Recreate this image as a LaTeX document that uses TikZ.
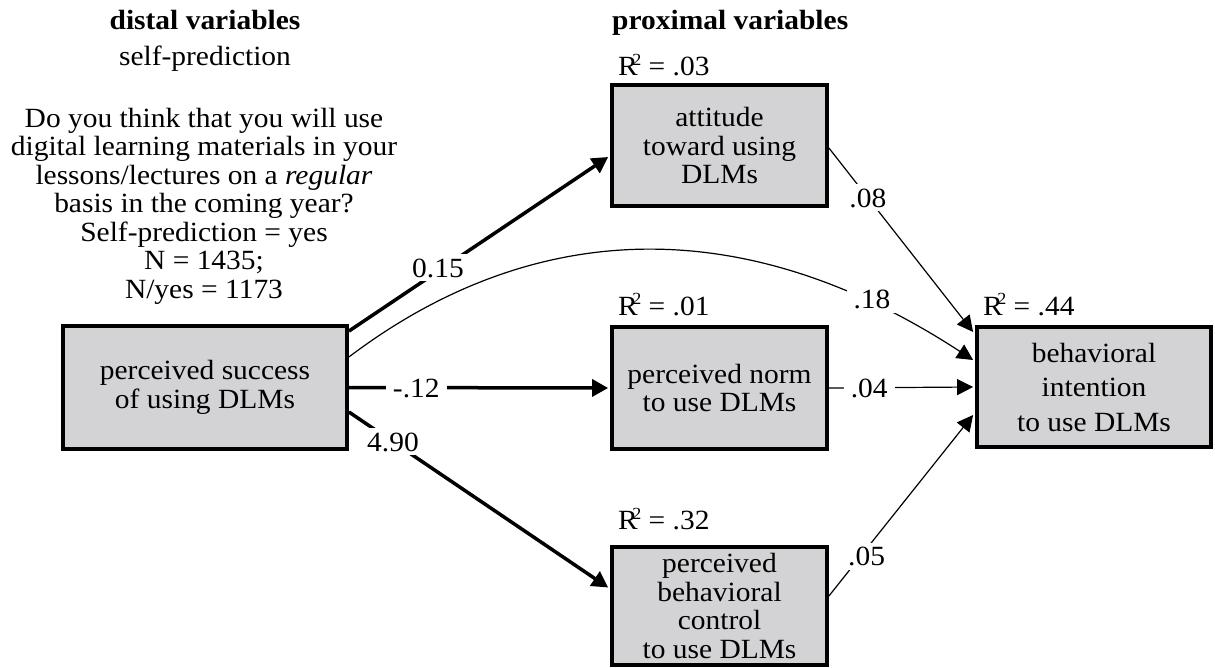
\documentclass[tikz,border=0pt]{standalone}
\usepackage{fontspec}
\setmainfont{Liberation Serif}[FakeStretch=1.06]
\usetikzlibrary{arrows.meta,calc}
\definecolor{boxgray}{RGB}{211,211,213}
\newcommand\myfs{\fontsize{27.8}{28.5}\selectfont}
\newcommand\rsq[1]{R\kern-5.5pt\raisebox{10pt}{\fontsize{17}{17}\selectfont 2}\ = #1}
\begin{document}
\begin{tikzpicture}[x=1pt,y=-1pt,
  every node/.style={font=\myfs, inner sep=0pt},
  varbox/.style={draw=black, line width=3.8pt, fill=boxgray, align=center},
  thinarrow/.style={line width=1.2pt, -{Triangle[length=16pt,width=16pt]}},
  thickarrow/.style={line width=3.5pt, -{Triangle[length=16pt,width=17pt]}},
  elabel/.style={fill=white, inner xsep=7pt, inner ysep=4pt, text height=19pt, text depth=0pt},
  rlabel/.style={anchor=base west},
  header/.style={font=\myfs\bfseries},
]
\useasboundingbox (0,0) rectangle (1215,668);

% headers and question
\node[header, anchor=base] (distal) at (205,30) {distal variables};
\node[anchor=base] (selfpred) at (205,66) {self-prediction};
\node[anchor=north, align=center] (question) at (204,108) {Do you think that you will use\\digital learning materials in your\\lessons/lectures on a \textit{regular}\\basis in the coming year?\\Self-prediction = yes\\N = 1435;\\N/yes = 1173};
\node[header, anchor=base west] (proximal) at (612,30) {proximal variables};

% boxes
\node[varbox, minimum width=284pt, minimum height=123pt] (ps) at (205,387.5) {perceived success\\of using DLMs};
\node[varbox, minimum width=215pt, minimum height=121pt] (att) at (719.5,145.5) {attitude\\toward using\\DLMs};
\node[varbox, minimum width=215pt, minimum height=122pt] (norm) at (719.5,388) {perceived norm\\to use DLMs};
\node[varbox, minimum width=215pt, minimum height=118pt] (pbc) at (719.5,606) {perceived\\behavioral\\control\\to use DLMs};
\node[varbox, minimum width=234pt, minimum height=120pt, font=\fontsize{27.8}{34.5}\selectfont] (bi) at (1094,387) {behavioral\\intention\\to use DLMs};

% R^2 labels
\node[rlabel] (r1) at (618,76) {\rsq{.03}};
\node[rlabel] (r2) at (618,315) {\rsq{.01}};
\node[rlabel] (r3) at (983,315) {\rsq{.44}};
\node[rlabel] (r4) at (618,529) {\rsq{.32}};

% connectors
\draw[thickarrow] ([yshift=-7pt]ps.north east) -- ([xshift=-2pt,yshift=-11.5pt]att.west);
\node[elabel] (l15) at (438,268) {0.15};
\draw[thickarrow] (ps.east) -- node[elabel, pos=0.26] (l12) {-.12} ([xshift=-2pt]norm.west);
\draw[thickarrow] ([yshift=-24.5pt]ps.east) -- node[elabel, pos=0.17] (l490) {4.90} ([xshift=-2pt,yshift=18.5pt]pbc.west);

\draw[thinarrow] ([yshift=-2.5pt]att.east) -- node[elabel, pos=0.27] (l08) {.08} ([xshift=-2pt,yshift=55pt]bi.west);
\draw[thinarrow] (norm.east) -- node[elabel, pos=0.28] (l04) {.04} ([xshift=-2pt]bi.west);
\draw[thinarrow] ([yshift=10pt]pbc.east) -- node[elabel, pos=0.22, xshift=6pt] (l05) {.05} ([xshift=-2pt,yshift=-28pt]bi.west);
\draw[thinarrow] ([yshift=30.5pt]ps.east) .. controls (510,235) and (720,195) .. ([xshift=-2pt,yshift=27pt]bi.west);
\node[elabel] (l18) at (872,299) {.18};
\end{tikzpicture}
\end{document}
